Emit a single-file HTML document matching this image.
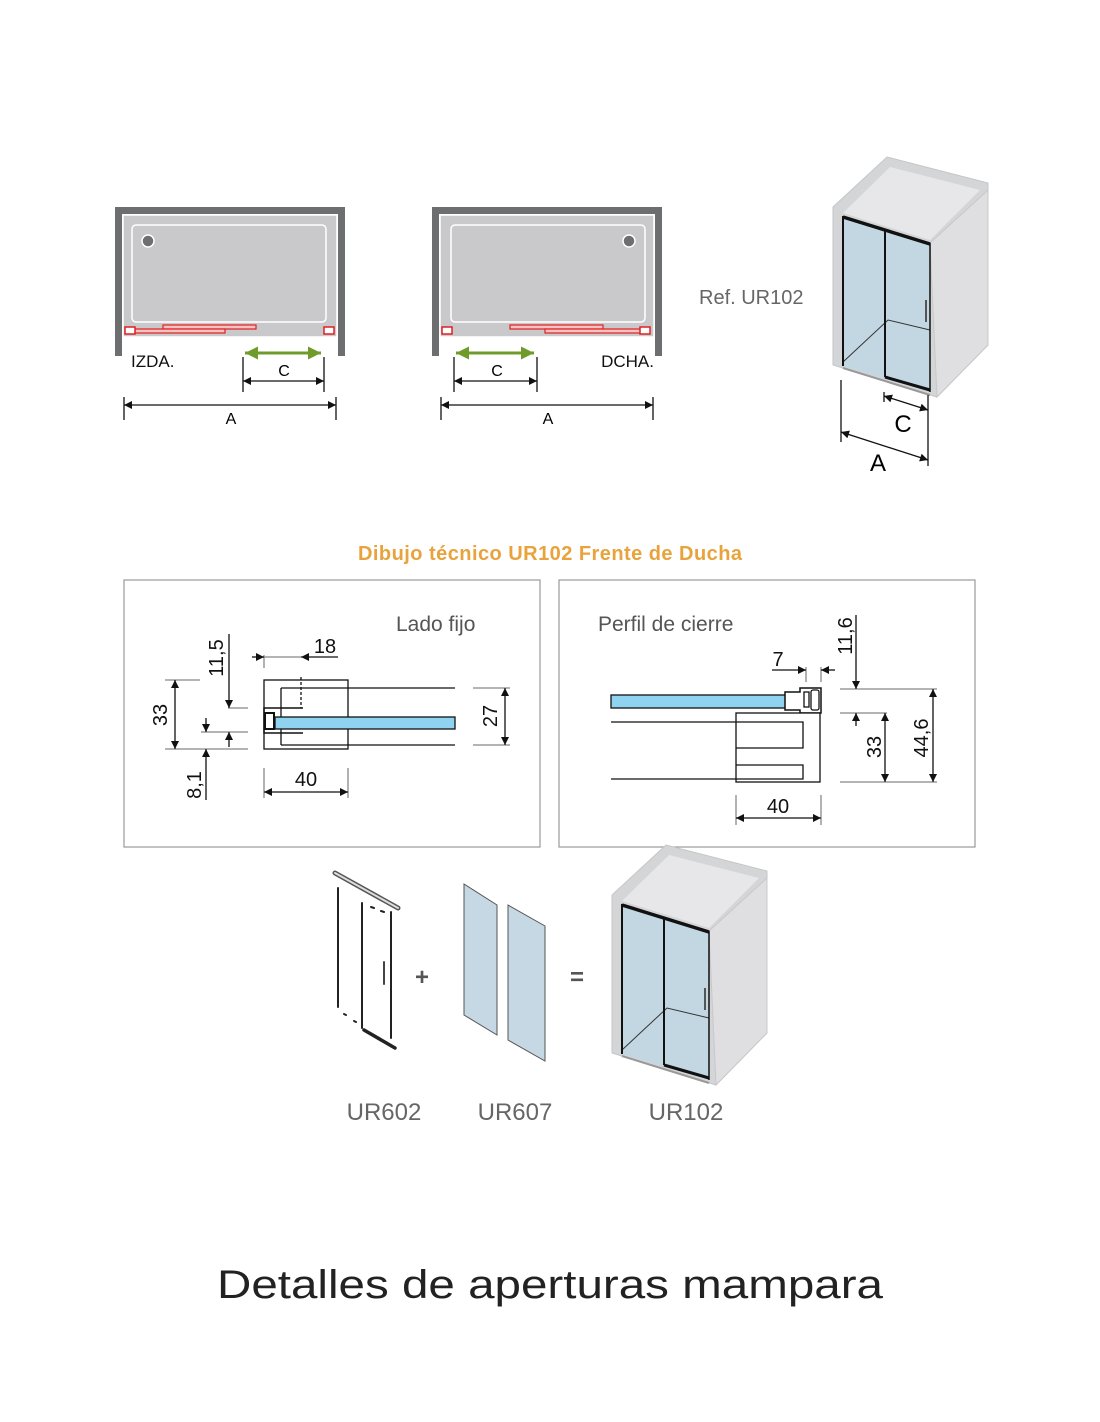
<!DOCTYPE html>
<html><head><meta charset="utf-8"><style>html,body{margin:0;padding:0;background:#fff}svg{display:block}</style></head>
<body>
<svg width="1100" height="1422" viewBox="0 0 1100 1422" xmlns="http://www.w3.org/2000/svg" font-family="Liberation Sans, sans-serif">
<defs>
<marker id="ar" viewBox="0 0 10 10" refX="10" refY="5" markerWidth="13" markerHeight="8" orient="auto-start-reverse" markerUnits="userSpaceOnUse"><path d="M0,0L10,5L0,10z" fill="#111"/></marker>
<marker id="ag" viewBox="0 0 10 10" refX="10" refY="5" markerWidth="15" markerHeight="13" orient="auto-start-reverse" markerUnits="userSpaceOnUse"><path d="M0,0L10,5L0,10z" fill="#6f9b2a"/></marker>
<g id="cab">
<polygon points="833,207 887,157 988,183 988,345 937,397 833,365" fill="#d4d5d7" stroke="#c6c6c8"/>
<polygon points="843,213 890,167 980,190 930,240" fill="#e7e7e9"/>
<polygon points="930,243 988,190 988,345 937,397" fill="#dfdfe1" stroke="#c8c8ca"/>
<polygon points="843,216 930,243 930,392 843,366" fill="#c3d7e3"/>
<polyline points="843,362 888,320 930,330" fill="none" stroke="#333" stroke-width="1"/>
<line x1="843" y1="217" x2="930" y2="244" stroke="#111" stroke-width="3.5"/>
<line x1="843" y1="216" x2="843" y2="366" stroke="#111" stroke-width="2"/>
<line x1="885" y1="230" x2="885" y2="377" stroke="#111" stroke-width="2"/>
<line x1="930" y1="243" x2="930" y2="392" stroke="#111" stroke-width="1.5"/>
<line x1="885" y1="377" x2="930" y2="390" stroke="#111" stroke-width="3"/>
<line x1="843" y1="368" x2="930" y2="395" stroke="#999" stroke-width="2"/>
<line x1="926" y1="300" x2="926" y2="322" stroke="#555" stroke-width="2"/>
</g>
</defs>

<g>
<rect x="115" y="207" width="230" height="149" fill="#6d6e70"/>
<rect x="122" y="214" width="216" height="142" fill="#fff"/>
<rect x="123" y="215" width="214" height="122" fill="#c9c9cb" stroke="#fff" stroke-width="1.5"/>
<rect x="132" y="225" width="194" height="97" rx="4" fill="#c9c9cb" stroke="#fff" stroke-width="1.5"/>
<circle cx="148" cy="241" r="6" fill="#6d6e70" stroke="#fff" stroke-width="1.5"/>
<rect x="163" y="325" width="93" height="4" fill="#f3c3c3" stroke="#e02020" stroke-width="1.2"/>
<rect x="135" y="329" width="90" height="4" fill="#f3c3c3" stroke="#e02020" stroke-width="1.2"/>
<rect x="125" y="327" width="10" height="7" fill="#fff" stroke="#e02020" stroke-width="1.5"/>
<rect x="324" y="327" width="10" height="7" fill="#fff" stroke="#e02020" stroke-width="1.5"/>
<text x="131" y="367" font-size="17" fill="#111">IZDA.</text>
<line x1="245" y1="353" x2="321" y2="353" stroke="#6f9b2a" stroke-width="3" marker-start="url(#ag)" marker-end="url(#ag)"/>
<g stroke="#111" stroke-width="1.3"><line x1="243" y1="357" x2="243" y2="392"/><line x1="324" y1="357" x2="324" y2="392"/><line x1="243" y1="381" x2="324" y2="381" marker-start="url(#ar)" marker-end="url(#ar)"/>
<line x1="124" y1="397" x2="124" y2="420"/><line x1="336" y1="397" x2="336" y2="420"/><line x1="124" y1="405" x2="336" y2="405" marker-start="url(#ar)" marker-end="url(#ar)"/></g>
<text x="284" y="376" font-size="16" text-anchor="middle">C</text>
<text x="231" y="424" font-size="16" text-anchor="middle">A</text>
</g>
<g>
<rect x="432" y="207" width="230" height="149" fill="#6d6e70"/>
<rect x="439" y="214" width="216" height="142" fill="#fff"/>
<rect x="440" y="215" width="214" height="122" fill="#c9c9cb" stroke="#fff" stroke-width="1.5"/>
<rect x="451" y="225" width="194" height="97" rx="4" fill="#c9c9cb" stroke="#fff" stroke-width="1.5"/>
<circle cx="629" cy="241" r="6" fill="#6d6e70" stroke="#fff" stroke-width="1.5"/>
<rect x="510" y="325" width="93" height="4" fill="#f3c3c3" stroke="#e02020" stroke-width="1.2"/>
<rect x="545" y="329" width="100" height="4" fill="#f3c3c3" stroke="#e02020" stroke-width="1.2"/>
<rect x="442" y="327" width="10" height="7" fill="#fff" stroke="#e02020" stroke-width="1.5"/>
<rect x="640" y="327" width="10" height="7" fill="#fff" stroke="#e02020" stroke-width="1.5"/>
<text x="654" y="367" font-size="17" fill="#111" text-anchor="end">DCHA.</text>
<line x1="456" y1="353" x2="534" y2="353" stroke="#6f9b2a" stroke-width="3" marker-start="url(#ag)" marker-end="url(#ag)"/>
<g stroke="#111" stroke-width="1.3"><line x1="454" y1="357" x2="454" y2="392"/><line x1="537" y1="357" x2="537" y2="392"/><line x1="454" y1="381" x2="537" y2="381" marker-start="url(#ar)" marker-end="url(#ar)"/>
<line x1="441" y1="397" x2="441" y2="420"/><line x1="653" y1="397" x2="653" y2="420"/><line x1="441" y1="405" x2="653" y2="405" marker-start="url(#ar)" marker-end="url(#ar)"/></g>
<text x="497" y="376" font-size="16" text-anchor="middle">C</text>
<text x="548" y="424" font-size="16" text-anchor="middle">A</text>
</g>

<text x="699" y="304" font-size="20" fill="#666">Ref. UR102</text>
<use href="#cab"/>
<g stroke="#111" stroke-width="1.3">
<line x1="841" y1="380" x2="841" y2="442"/><line x1="928" y1="395" x2="928" y2="466"/><line x1="884" y1="392" x2="884" y2="402"/>
<line x1="884" y1="396" x2="928" y2="410" marker-start="url(#ar)" marker-end="url(#ar)"/>
<line x1="841" y1="432" x2="928" y2="460" marker-start="url(#ar)" marker-end="url(#ar)"/>
</g>
<text x="903" y="432" font-size="24" text-anchor="middle">C</text>
<text x="878" y="471" font-size="24" text-anchor="middle">A</text>

<text x="550" y="560" font-size="20" font-weight="bold" fill="#e8a33c" text-anchor="middle" textLength="384">Dibujo técnico UR102 Frente de Ducha</text>
<rect x="124" y="580" width="416" height="267" fill="none" stroke="#999" stroke-width="1.2"/>
<rect x="559" y="580" width="416" height="267" fill="none" stroke="#999" stroke-width="1.2"/>

<text x="396" y="631" font-size="21" fill="#555">Lado fijo</text>
<g stroke="#111" stroke-width="1.3" fill="none">
<rect x="264" y="680" width="84" height="69"/>
<line x1="281" y1="688" x2="455" y2="688"/><line x1="281" y1="745" x2="455" y2="745"/><line x1="281" y1="688" x2="281" y2="745"/>
<rect x="275" y="717" width="180" height="12" fill="#8fd3f0"/>
<path d="M303,708 H264 V733 H303" stroke-width="1.5"/>
<rect x="265" y="713" width="9" height="16" stroke-width="2"/>
<line x1="301" y1="677" x2="301" y2="708" stroke-dasharray="3,2"/>
<line x1="264" y1="655" x2="264" y2="668" stroke="#888"/>
<line x1="252" y1="657" x2="264" y2="657" marker-end="url(#ar)"/><line x1="338" y1="657" x2="301" y2="657" marker-end="url(#ar)"/><line x1="264" y1="657" x2="301" y2="657" stroke="#888"/>
<line x1="165" y1="680" x2="200" y2="680" stroke="#888"/><line x1="165" y1="749" x2="248" y2="749" stroke="#888"/>
<line x1="175" y1="680" x2="175" y2="749" marker-start="url(#ar)" marker-end="url(#ar)"/>
<line x1="228" y1="708" x2="248" y2="708" stroke="#888"/><line x1="201" y1="732" x2="248" y2="732" stroke="#888"/>
<line x1="229" y1="634" x2="229" y2="708" marker-end="url(#ar)"/><line x1="229" y1="747" x2="229" y2="732" marker-end="url(#ar)"/>
<line x1="206" y1="718" x2="206" y2="732" marker-end="url(#ar)"/><line x1="206" y1="800" x2="206" y2="749" marker-end="url(#ar)"/>
<line x1="264" y1="768" x2="264" y2="798" stroke="#888"/><line x1="348" y1="768" x2="348" y2="798" stroke="#888"/>
<line x1="264" y1="792" x2="348" y2="792" marker-start="url(#ar)" marker-end="url(#ar)"/>
<line x1="473" y1="688" x2="510" y2="688" stroke="#888"/><line x1="473" y1="745" x2="510" y2="745" stroke="#888"/>
<line x1="505" y1="688" x2="505" y2="745" marker-start="url(#ar)" marker-end="url(#ar)"/>
</g>
<g font-size="20" fill="#111" text-anchor="middle">
<text x="325" y="653">18</text><text x="306" y="786">40</text>
<text transform="translate(167,715) rotate(-90)">33</text>
<text transform="translate(223,658) rotate(-90)">11,5</text>
<text transform="translate(201,785) rotate(-90)">8,1</text>
<text transform="translate(497,716) rotate(-90)">27</text>
</g>

<text x="598" y="631" font-size="21" fill="#555">Perfil de cierre</text>
<g stroke="#111" stroke-width="1.3" fill="none">
<rect x="611" y="695" width="180" height="13" fill="#8fd3f0"/>
<path d="M785,692 H800 V688 H821 V713 H800 V710 H785 Z" fill="#fff" stroke-width="1.5"/>
<rect x="804" y="692" width="5" height="15"/><rect x="811" y="690" width="8" height="20" rx="2"/>
<line x1="611" y1="722" x2="736" y2="722"/><line x1="611" y1="779" x2="736" y2="779"/>
<rect x="736" y="713" width="84" height="69" fill="#fff"/>
<path d="M736,722 H803 V748 H736 M736,765 H803 V779 H736"/>
<line x1="806" y1="667" x2="806" y2="682" stroke="#888"/><line x1="821" y1="667" x2="821" y2="682" stroke="#888"/>
<line x1="772" y1="670" x2="806" y2="670" marker-end="url(#ar)"/><line x1="835" y1="670" x2="821" y2="670" marker-end="url(#ar)"/>
<line x1="840" y1="689" x2="937" y2="689" stroke="#888"/><line x1="840" y1="713" x2="887" y2="713" stroke="#888"/><line x1="840" y1="782" x2="937" y2="782" stroke="#888"/>
<line x1="856" y1="615" x2="856" y2="689" marker-end="url(#ar)"/><line x1="856" y1="726" x2="856" y2="713" marker-end="url(#ar)"/>
<line x1="885" y1="713" x2="885" y2="782" marker-start="url(#ar)" marker-end="url(#ar)"/>
<line x1="933" y1="689" x2="933" y2="782" marker-start="url(#ar)" marker-end="url(#ar)"/>
<line x1="736" y1="795" x2="736" y2="825" stroke="#888"/><line x1="821" y1="795" x2="821" y2="825" stroke="#888"/>
<line x1="736" y1="818" x2="821" y2="818" marker-start="url(#ar)" marker-end="url(#ar)"/>
</g>
<g font-size="20" fill="#111" text-anchor="middle">
<text x="778" y="666">7</text><text x="778" y="813">40</text>
<text transform="translate(852,636) rotate(-90)">11,6</text>
<text transform="translate(881,747) rotate(-90)">33</text>
<text transform="translate(928,738) rotate(-90)">44,6</text>
</g>

<g stroke-linecap="round">
<line x1="335" y1="873" x2="398" y2="908" stroke="#555" stroke-width="5"/>
<line x1="335" y1="873" x2="398" y2="908" stroke="#ddd" stroke-width="2"/>
<g stroke="#222" stroke-width="2"><line x1="338" y1="888" x2="338" y2="1007"/><line x1="362" y1="903" x2="362" y2="1028"/><line x1="391" y1="912" x2="391" y2="1038"/></g>
<line x1="364" y1="1030" x2="395" y2="1048" stroke="#222" stroke-width="3.5"/>
<line x1="384" y1="962" x2="384" y2="984" stroke="#444" stroke-width="2"/>
<g stroke="#222" stroke-width="2"><line x1="371" y1="907" x2="374" y2="908"/><line x1="381" y1="911" x2="384" y2="912"/><line x1="344" y1="1014" x2="346" y2="1015"/><line x1="354" y1="1021" x2="356" y2="1022"/></g>
</g>
<text x="422" y="985" font-size="24" font-weight="bold" fill="#555" text-anchor="middle">+</text>
<polygon points="464,884 497,905 497,1035 464,1015" fill="#c5d8e3" stroke="#555"/>
<polygon points="508,905 545,926 545,1061 508,1040" fill="#c5d8e3" stroke="#555"/>
<text x="577" y="985" font-size="24" font-weight="bold" fill="#555" text-anchor="middle">=</text>
<use href="#cab" transform="translate(-221,688)"/>
<g font-size="24" fill="#666" text-anchor="middle">
<text x="384" y="1120">UR602</text><text x="515" y="1120">UR607</text><text x="686" y="1120">UR102</text>
</g>
<text x="550" y="1298" font-size="40" fill="#222" text-anchor="middle" textLength="666" lengthAdjust="spacingAndGlyphs">Detalles de aperturas mampara</text>
</svg>
</body></html>
